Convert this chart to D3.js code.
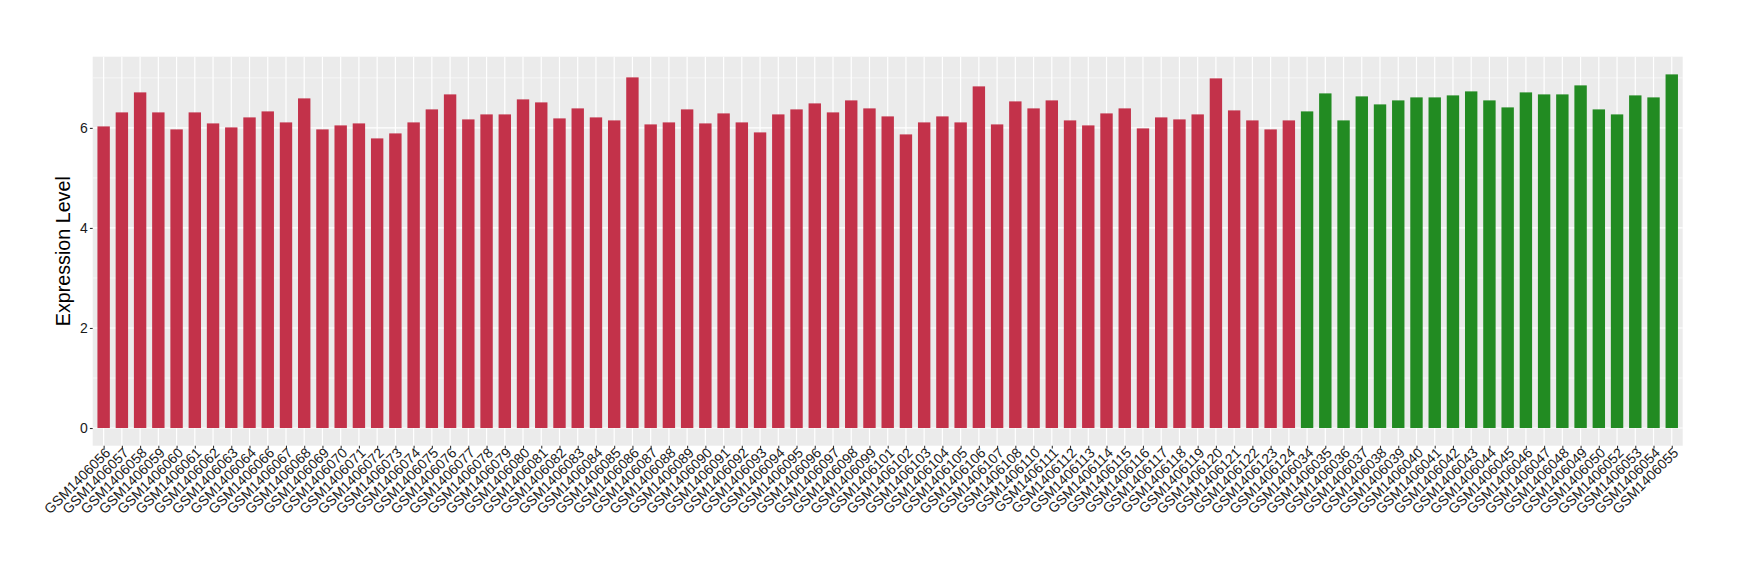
<!DOCTYPE html>
<html>
<head>
<meta charset="utf-8">
<script src="https://d3js.org/d3.v7.min.js"></script>
<style>
  body { margin: 0; background: #fff; }
  svg { display: block; font-family: "Liberation Sans", Arial, Helvetica, sans-serif; }
</style>
</head>
<body>
<div id="chart"></div>
<script>
// sample ids (tumour first, then normal), as ordered on the x axis
const tumourSamples = [
    "GSM1406056", "GSM1406057", "GSM1406058", "GSM1406059", "GSM1406060", "GSM1406061",
    "GSM1406062", "GSM1406063", "GSM1406064", "GSM1406066", "GSM1406067", "GSM1406068",
    "GSM1406069", "GSM1406070", "GSM1406071", "GSM1406072", "GSM1406073", "GSM1406074",
    "GSM1406075", "GSM1406076", "GSM1406077", "GSM1406078", "GSM1406079", "GSM1406080",
    "GSM1406081", "GSM1406082", "GSM1406083", "GSM1406084", "GSM1406085", "GSM1406086",
    "GSM1406087", "GSM1406088", "GSM1406089", "GSM1406090", "GSM1406091", "GSM1406092",
    "GSM1406093", "GSM1406094", "GSM1406095", "GSM1406096", "GSM1406097", "GSM1406098",
    "GSM1406099", "GSM1406101", "GSM1406102", "GSM1406103", "GSM1406104", "GSM1406105",
    "GSM1406106", "GSM1406107", "GSM1406108", "GSM1406110", "GSM1406111", "GSM1406112",
    "GSM1406113", "GSM1406114", "GSM1406115", "GSM1406116", "GSM1406117", "GSM1406118",
    "GSM1406119", "GSM1406120", "GSM1406121", "GSM1406122", "GSM1406123", "GSM1406124"
];
const tumourValues = [
    6.03, 6.31, 6.71, 6.31, 5.97, 6.31, 6.09, 6.01, 6.21, 6.33, 6.11, 6.59,
    5.97, 6.05, 6.09, 5.79, 5.89, 6.11, 6.37, 6.67, 6.17, 6.27, 6.27, 6.57,
    6.51, 6.19, 6.39, 6.21, 6.15, 7.01, 6.07, 6.11, 6.37, 6.09, 6.29, 6.11,
    5.91, 6.27, 6.37, 6.49, 6.31, 6.55, 6.39, 6.23, 5.87, 6.11, 6.23, 6.11,
    6.83, 6.07, 6.53, 6.39, 6.55, 6.15, 6.05, 6.29, 6.39, 5.99, 6.21, 6.17,
    6.27, 6.99, 6.35, 6.15, 5.97, 6.15
];
const normalSamples = [
    "GSM1406034", "GSM1406035", "GSM1406036", "GSM1406037", "GSM1406038", "GSM1406039",
    "GSM1406040", "GSM1406041", "GSM1406042", "GSM1406043", "GSM1406044", "GSM1406045",
    "GSM1406046", "GSM1406047", "GSM1406048", "GSM1406049", "GSM1406050", "GSM1406052",
    "GSM1406053", "GSM1406054", "GSM1406055"
];
const normalValues = [
    6.33, 6.69, 6.15, 6.63, 6.47, 6.55, 6.61, 6.61, 6.65, 6.73, 6.55, 6.41,
    6.71, 6.67, 6.67, 6.85, 6.37, 6.27, 6.65, 6.61, 7.07
];
const yTicks = [0, 2, 4, 6];
const yMinorTicks = [1, 3, 5, 7];

const data = tumourSamples.map((s, i) => ({ id: s, value: tumourValues[i], group: "tumour" }))
    .concat(normalSamples.map((s, i) => ({ id: s, value: normalValues[i], group: "normal" })));

const width = 1740, height = 580;
const margin = { top: 56.7, right: 57.3, bottom: 134.3, left: 92.7 };
const innerW = width - margin.left - margin.right;
const innerH = height - margin.top - margin.bottom;
const colour = { tumour: "#c3324a", normal: "#228b22" };

const svg = d3.select("#chart").append("svg")
    .attr("width", width)
    .attr("height", height);

const g = svg.append("g")
    .attr("transform", `translate(${margin.left},${margin.top})`);

// discrete scale with ggplot-like 0.6 expansion on each side
const n = data.length;
const step = innerW / (n - 1 + 1.2);
const x = d3.scalePoint()
    .domain(data.map(d => d.id))
    .range([0.6 * step, innerW - 0.6 * step]);
const barW = step * 0.68;

const yMax = d3.max(data, d => d.value);
const y = d3.scaleLinear()
    .domain([-0.05 * yMax, 1.05 * yMax])
    .range([innerH, 0]);

// panel
g.append("rect")
    .attr("width", innerW)
    .attr("height", innerH)
    .attr("fill", "#ebebeb");

g.append("g")
    .selectAll("line")
    .data(yMinorTicks)
    .join("line")
    .attr("x1", 0).attr("x2", innerW)
    .attr("y1", d => y(d)).attr("y2", d => y(d))
    .attr("stroke", "#fff")
    .attr("stroke-width", 0.6);

g.append("g")
    .selectAll("line")
    .data(yTicks)
    .join("line")
    .attr("x1", 0).attr("x2", innerW)
    .attr("y1", d => y(d)).attr("y2", d => y(d))
    .attr("stroke", "#fff")
    .attr("stroke-width", 1.2);

g.append("g")
    .selectAll("line")
    .data(data)
    .join("line")
    .attr("x1", d => x(d.id)).attr("x2", d => x(d.id))
    .attr("y1", 0).attr("y2", innerH)
    .attr("stroke", "#fff")
    .attr("stroke-width", 1.2);

// bars
g.append("g")
    .selectAll("rect")
    .data(data)
    .join("rect")
    .attr("x", d => x(d.id) - barW / 2)
    .attr("width", barW)
    .attr("y", d => y(d.value))
    .attr("height", d => y(0) - y(d.value))
    .attr("fill", d => colour[d.group]);

// axes
const yAxis = g.append("g")
    .call(d3.axisLeft(y).tickValues(yTicks).tickSize(2.8).tickPadding(2.2));
const xAxis = g.append("g")
    .attr("transform", `translate(0,${innerH})`)
    .call(d3.axisBottom(x).tickSize(2.8).tickPadding(2));

[yAxis, xAxis].forEach(a => {
    a.select(".domain").remove();
    a.selectAll(".tick line").attr("stroke", "#333").attr("stroke-width", 1.1);
    a.selectAll(".tick text")
        .attr("fill", "#1a1a1a")
        .style("font-size", "14px")
        .style("font-family", "\"Liberation Sans\", Arial, sans-serif");
});

xAxis.selectAll(".tick text")
    .attr("text-anchor", "end")
    .attr("y", null)
    .attr("transform", "translate(0,1) rotate(-45)")
    .attr("dy", "0.71em");

// y title
svg.append("text")
    .attr("transform", `translate(69.6,${margin.top + innerH / 2}) rotate(-90)`)
    .attr("text-anchor", "middle")
    .attr("fill", "#000")
    .style("font-size", "19.7px")
    .text("Expression Level");
</script>
</body>
</html>
